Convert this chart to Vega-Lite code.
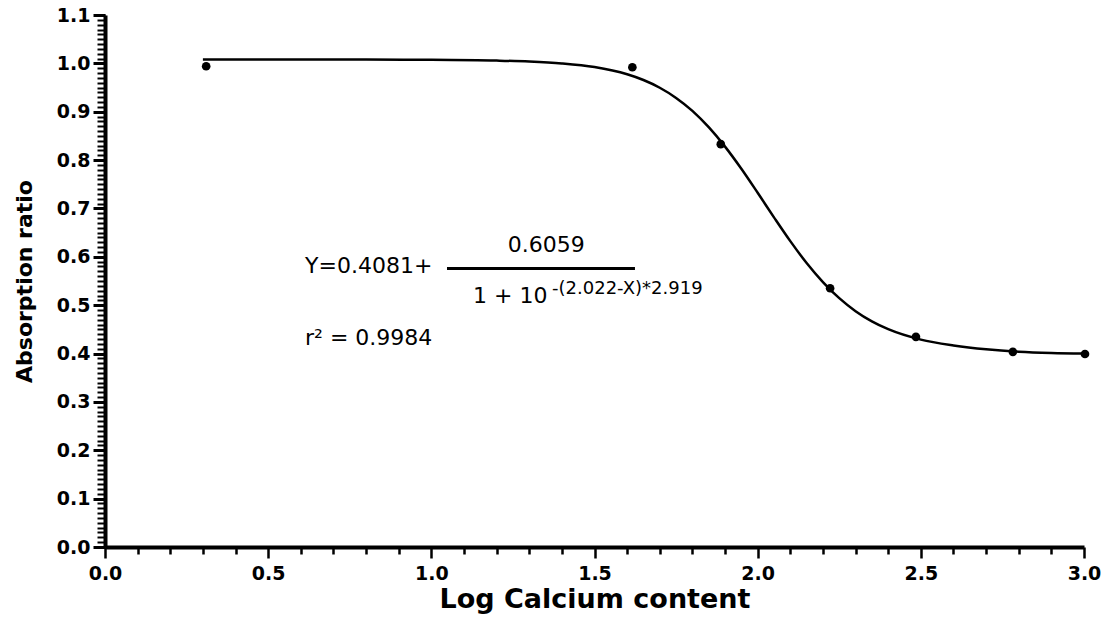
{
  "$schema": "https://vega.github.io/schema/vega-lite/v6.json",
  "width": 979,
  "height": 532,
  "autosize": {"type": "none"},
  "padding": {"left": 105, "top": 15, "right": 19, "bottom": 71},
  "background": "white",
  "config": {
    "view": {"stroke": null},
    "axis": {
      "grid": false,
      "domainColor": "black",
      "domainWidth": 4,
      "tickColor": "black",
      "tickWidth": 2.5,
      "labelFont": "DejaVu Sans",
      "labelFontWeight": "bold",
      "labelFontSize": 19,
      "labelColor": "black",
      "labelOverlap": false,
      "labelFlush": false,
      "labelBound": false,
      "titleFont": "DejaVu Sans",
      "titleFontWeight": "bold",
      "titleColor": "black"
    }
  },
  "resolve": {"axis": {"y": "independent"}},
  "datasets": {
    "curve": [
      {"x": 0.3, "y": 1.008}, {"x": 0.5, "y": 1.008}, {"x": 0.8, "y": 1.0078}, {"x": 1.0, "y": 1.0074},
      {"x": 1.2, "y": 1.0058}, {"x": 1.3, "y": 1.0038}, {"x": 1.4, "y": 0.9999}, {"x": 1.5, "y": 0.9924},
      {"x": 1.6, "y": 0.9774}, {"x": 1.65, "y": 0.9656}, {"x": 1.7, "y": 0.9496}, {"x": 1.75, "y": 0.9286},
      {"x": 1.8, "y": 0.9018}, {"x": 1.85, "y": 0.868}, {"x": 1.9, "y": 0.8278}, {"x": 1.95, "y": 0.782},
      {"x": 2.0, "y": 0.7324}, {"x": 2.05, "y": 0.6816}, {"x": 2.1, "y": 0.6324}, {"x": 2.15, "y": 0.5872},
      {"x": 2.2, "y": 0.5478}, {"x": 2.25, "y": 0.5145}, {"x": 2.3, "y": 0.4876}, {"x": 2.35, "y": 0.4665},
      {"x": 2.4, "y": 0.4503}, {"x": 2.5, "y": 0.4288}, {"x": 2.6, "y": 0.4168}, {"x": 2.7, "y": 0.4088},
      {"x": 2.8, "y": 0.4038}, {"x": 2.9, "y": 0.4012}, {"x": 3.0, "y": 0.4}
    ],
    "points": [
      {"x": 0.31, "y": 0.994}, {"x": 1.616, "y": 0.992}, {"x": 1.887, "y": 0.833},
      {"x": 2.222, "y": 0.535}, {"x": 2.485, "y": 0.4345}, {"x": 2.782, "y": 0.4035}, {"x": 3.003, "y": 0.399}
    ],
    "notes": [
      {"x": 0.613, "y": 0.566, "text": "Y=0.4081+", "part": "main"},
      {"x": 1.352, "y": 0.6095, "text": "0.6059", "part": "num"},
      {"x": 1.128, "y": 0.5035, "text": "1 + 10", "part": "main"},
      {"x": 1.37, "y": 0.5227, "text": "-(2.022-X)*2.919", "part": "exp"},
      {"x": 0.613, "y": 0.4174, "text": "r² = 0.9984", "part": "main"}
    ],
    "bar": [{"x": 1.048, "x2": 1.624, "y": 0.5758}]
  },
  "layer": [
    {
      "data": {"name": "curve"},
      "mark": {"type": "line", "color": "black", "strokeWidth": 2.5, "interpolate": "monotone"},
      "encoding": {
        "x": {
          "field": "x", "type": "quantitative",
          "scale": {"domain": [0, 3], "nice": false, "zero": false},
          "axis": {
            "title": "Log Calcium content",
            "titleFontSize": 27,
            "titlePadding": 3,
            "tickCount": 1000,
            "values": [0, 0.1, 0.2, 0.3, 0.4, 0.5, 0.6, 0.7, 0.8, 0.9, 1, 1.1, 1.2, 1.3, 1.4, 1.5, 1.6, 1.7, 1.8, 1.9, 2, 2.1, 2.2, 2.3, 2.4, 2.5, 2.6, 2.7, 2.8, 2.9, 3],
            "labelPadding": 6,
            "labelExpr": "round(datum.value*10) % 5 === 0 ? format(datum.value, '.1f') : ''",
            "tickSize": {"condition": {"test": "round(datum.value*10) % 5 === 0", "value": 11}, "value": 7}
          }
        },
        "y": {
          "field": "y", "type": "quantitative",
          "scale": {"domain": [0, 1.1], "nice": false, "zero": false},
          "axis": {
            "orient": "left",
            "title": "Absorption ratio",
            "titleFontSize": 22,
            "titlePadding": 20,
            "tickCount": 1000,
            "values": [0, 0.1, 0.2, 0.3, 0.4, 0.5, 0.6, 0.7, 0.8, 0.9, 1, 1.1],
            "labelPadding": 3,
            "format": ".1f",
            "tickSize": 12,
            "tickWidth": 3
          }
        }
      }
    },
    {
      "data": {"name": "points"},
      "mark": {"type": "circle", "color": "black", "opacity": 1, "size": 75},
      "encoding": {
        "x": {"field": "x", "type": "quantitative"},
        "y": {
          "field": "y", "type": "quantitative",
          "axis": {
            "orient": "left",
            "title": null,
            "labels": false,
            "domain": false,
            "tickCount": 1000,
            "values": [0, 0.01, 0.02, 0.03, 0.04, 0.05, 0.06, 0.07, 0.08, 0.09, 0.1, 0.11, 0.12, 0.13, 0.14, 0.15, 0.16, 0.17, 0.18, 0.19, 0.2, 0.21, 0.22, 0.23, 0.24, 0.25, 0.26, 0.27, 0.28, 0.29, 0.3, 0.31, 0.32, 0.33, 0.34, 0.35, 0.36, 0.37, 0.38, 0.39, 0.4, 0.41, 0.42, 0.43, 0.44, 0.45, 0.46, 0.47, 0.48, 0.49, 0.5, 0.51, 0.52, 0.53, 0.54, 0.55, 0.56, 0.57, 0.58, 0.59, 0.6, 0.61, 0.62, 0.63, 0.64, 0.65, 0.66, 0.67, 0.68, 0.69, 0.7, 0.71, 0.72, 0.73, 0.74, 0.75, 0.76, 0.77, 0.78, 0.79, 0.8, 0.81, 0.82, 0.83, 0.84, 0.85, 0.86, 0.87, 0.88, 0.89, 0.9, 0.91, 0.92, 0.93, 0.94, 0.95, 0.96, 0.97, 0.98, 0.99, 1, 1.01, 1.02, 1.03, 1.04, 1.05, 1.06, 1.07, 1.08, 1.09, 1.1],
            "tickSize": 8,
            "tickWidth": 2
          }
        }
      }
    },
    {
      "data": {"name": "notes"},
      "transform": [{"filter": "datum.part === 'main'"}],
      "mark": {"type": "text", "align": "left", "baseline": "alphabetic", "font": "DejaVu Sans", "fontSize": 22, "color": "black"},
      "encoding": {
        "x": {"field": "x", "type": "quantitative"},
        "y": {"field": "y", "type": "quantitative", "axis": null},
        "text": {"field": "text"}
      }
    },
    {
      "data": {"name": "notes"},
      "transform": [{"filter": "datum.part === 'num'"}],
      "mark": {"type": "text", "align": "center", "baseline": "alphabetic", "font": "DejaVu Sans", "fontSize": 22, "color": "black"},
      "encoding": {
        "x": {"field": "x", "type": "quantitative"},
        "y": {"field": "y", "type": "quantitative", "axis": null},
        "text": {"field": "text"}
      }
    },
    {
      "data": {"name": "notes"},
      "transform": [{"filter": "datum.part === 'exp'"}],
      "mark": {"type": "text", "align": "left", "baseline": "alphabetic", "font": "DejaVu Sans", "fontSize": 18, "color": "black"},
      "encoding": {
        "x": {"field": "x", "type": "quantitative"},
        "y": {"field": "y", "type": "quantitative", "axis": null},
        "text": {"field": "text"}
      }
    },
    {
      "data": {"name": "bar"},
      "mark": {"type": "rule", "color": "black", "strokeWidth": 3},
      "encoding": {
        "x": {"field": "x", "type": "quantitative"},
        "x2": {"field": "x2"},
        "y": {"field": "y", "type": "quantitative", "axis": null}
      }
    }
  ]
}
